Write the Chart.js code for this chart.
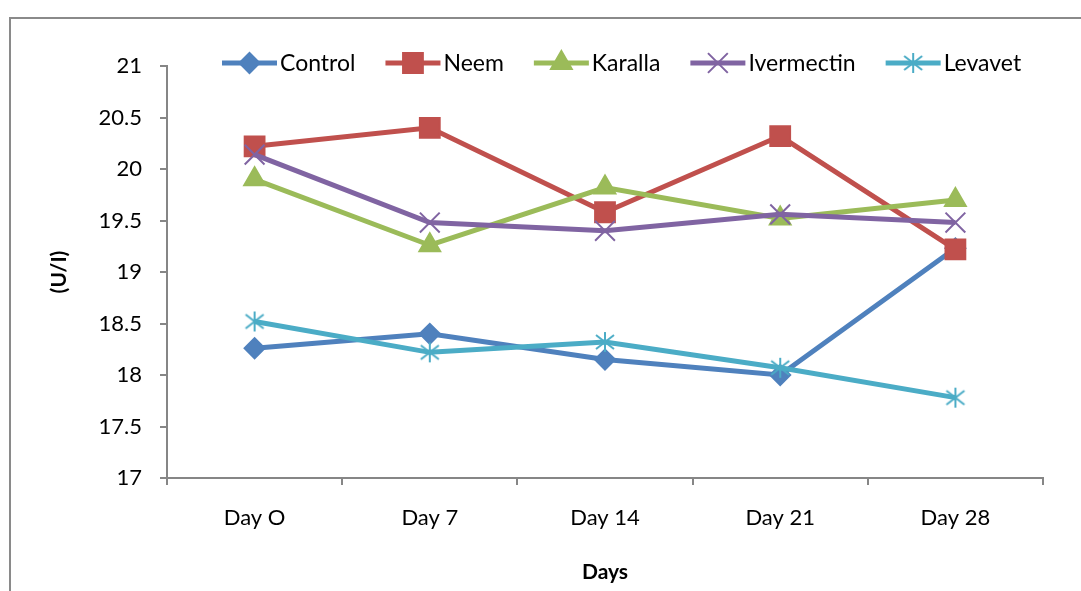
<!DOCTYPE html>
<html>
<head>
<meta charset="utf-8">
<script src="https://cdn.jsdelivr.net/npm/chart.js@4.4.1/dist/chart.umd.min.js"></script>
<style>
  body { margin: 0; background: #fff; overflow: hidden; }
  #frame { position: absolute; left: 9px; top: 17px; width: 1100px; height: 600px; border: 2px solid #8a8a8a; }
  #wrap { position: absolute; left: 0; top: 0; width: 1081px; height: 591px; }
</style>
</head>
<body>
<div id="frame"></div>
<div id="wrap"><canvas id="chart"></canvas></div>
<script>
// ---- data ----
const days = ['Day O', 'Day 7', 'Day 14', 'Day 21', 'Day 28'];
const control    = [18.26, 18.40, 18.15, 18.00, 19.23];
const neem       = [20.22, 20.40, 19.58, 20.32, 19.22];
const karalla    = [19.90, 19.26, 19.82, 19.52, 19.70];
const ivermectin = [20.14, 19.48, 19.40, 19.56, 19.48];
const levavet    = [18.52, 18.22, 18.32, 18.07, 17.78];

const FONT = 'Lato, "Open Sans", sans-serif';
const AXIS = '#868686';

// Excel-style asterisk marker (vertical + two diagonals)
function asterisk(color) {
  const c = document.createElement('canvas');
  c.width = 22; c.height = 22;
  const g = c.getContext('2d');
  g.strokeStyle = color; g.lineWidth = 2;
  g.beginPath();
  g.moveTo(11, 1); g.lineTo(11, 21);
  g.moveTo(2, 4); g.lineTo(20, 18);
  g.moveTo(20, 4); g.lineTo(2, 18);
  g.stroke();
  return c;
}

function series(label, data, color, style, radius, order) {
  return {
    label, data, order,
    borderColor: color,
    backgroundColor: color,
    pointBackgroundColor: color,
    pointBorderColor: color,
    borderWidth: 5,
    pointStyle: style,
    pointRadius: radius,
    pointHoverRadius: radius,
    pointBorderWidth: 2,
    tension: 0
  };
}

// legend: line segment with marker, like Excel
const lineLegend = {
  id: 'lineLegend',
  afterDraw(chart) {
    const ctx = chart.ctx;
    ctx.save();
    ctx.font = '23px ' + FONT;
    ctx.textBaseline = 'middle';
    let x = 222;
    const y = 63;
    chart.data.datasets.forEach(ds => {
      ctx.strokeStyle = ds.borderColor;
      ctx.lineWidth = 5;
      ctx.beginPath(); ctx.moveTo(x, y); ctx.lineTo(x + 55, y); ctx.stroke();
      ctx.fillStyle = ds.pointBackgroundColor;
      ctx.lineWidth = ds.pointBorderWidth;
      Chart.helpers.drawPoint(ctx, {
        pointStyle: ds.pointStyle, radius: ds.pointRadius,
        borderWidth: ds.pointBorderWidth, rotation: 0
      }, x + 27.5, y);
      ctx.fillStyle = '#000';
      ctx.fillText(ds.label, x + 58, y + 1);
      x += 58 + ctx.measureText(ds.label).width + 30;
    });
    ctx.restore();
  }
};

new Chart(document.getElementById('chart'), {
  type: 'line',
  data: {
    labels: days,
    datasets: [
      series('Control', control, '#4F81BD', 'rectRot', 10, 5),
      series('Neem', neem, '#C0504D', 'rect', 14, 4),
      series('Karalla', karalla, '#9BBB59', 'triangle', 12, 3),
      series('Ivermectin', ivermectin, '#8064A2', 'crossRot', 14, 2),
      series('Levavet', levavet, '#4BACC6', asterisk('#4BACC6'), 11, 1)
    ]
  },
  options: {
    responsive: true,
    maintainAspectRatio: false,
    animation: false,
    layout: { padding: { left: 0, top: 66, right: 38, bottom: 0 } },
    plugins: { legend: { display: false }, tooltip: { enabled: false } },
    scales: {
      x: {
        offset: true,
        afterFit: s => { s.height = 113; },
        grid: { offset: true, drawOnChartArea: false, drawTicks: true, tickLength: 7, color: AXIS, lineWidth: 2 },
        border: { color: AXIS, width: 2 },
        ticks: { color: '#000', font: { family: FONT, size: 22 }, padding: 20, maxRotation: 0 },
        title: { display: true, text: 'Days', color: '#000', font: { family: FONT, size: 21, weight: 'bold' }, padding: { top: 0, bottom: 6 } }
      },
      y: {
        min: 17, max: 21,
        afterFit: s => { s.width = 167; },
        grid: { drawOnChartArea: false, drawTicks: true, tickLength: 7, color: AXIS, lineWidth: 2 },
        border: { color: AXIS, width: 2 },
        ticks: { stepSize: 0.5, color: '#000', font: { family: FONT, size: 22 }, padding: 18, callback: v => String(v) },
        title: { display: true, text: '(U/I)', color: '#000', font: { family: FONT, size: 21, weight: 'bold' }, padding: { top: 47, bottom: 0 } }
      }
    }
  },
  plugins: [lineLegend]
});
</script>
</body>
</html>
